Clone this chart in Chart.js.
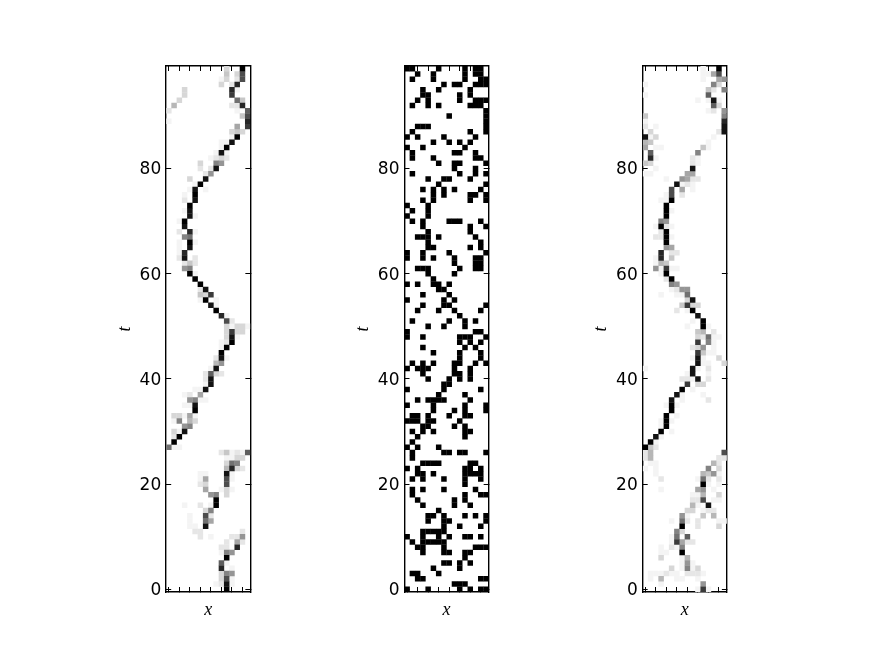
<!DOCTYPE html>
<html><head><meta charset="utf-8">
<script src="https://cdn.jsdelivr.net/npm/chart.js@4"></script>
<style>html,body{margin:0;padding:0;background:#fff;width:871px;height:658px;overflow:hidden}canvas{position:absolute;top:0}</style>
</head><body>
<script>
// Rows run from t=99 (top) to t=0. "b3" means column 0xb has darkness 3/15.
const leftRows = ["b3 ef","b4 d3 eb","a1 b3 d2 eb","a3 c2 dd","33 cd d1","33 cc","23 d9 e4","15 c2 d2 ed","02 d1 fa","e4 fb",
"01 fd","d6 fc","c3 d4 e3","c1 df","a1 b1 ce","a1 bf","91 ae b1","81 92 a3 b2","63 98 a7","62 82 9e",
"72 87","43 7e","51 6f","41 5e 71","31 5f","32 5e","4f","31 4e","4e 51","21 3f",
"3e","22 4d 51","38 49","21 4f 51","21 4e","21 3d","22 3e 52","32 44 52","37 48","4f 51",
"5f","6f","62 7e","64 73 8c","61 7f 91","8e 91","9f","ad b1","bb c2","b3 c1 d3 e3 f1",
"b3 cc d3 e3","b3 ce d1","a1 b2 cf","a1 bf","af","92 ae b1","95 a7","81 9e","72 8a 93 a2","72 8e",
"71 8e","51 61 7e","31 42 66","47 58 61 71","31 41 5e","5f","13 23 31 46 51","11 28 45 53","37 48","13 21 3e",
"12 2f","1f","09 11 21","a2 b4 c1 d2 e1 fa","b1 c1 d3 e3","b3 c9 d8","b5 cd d3 e2","61 71 be c1","61 76 bb c1","62 73 bb",
"76 a1 b3 c1","87 98 b3","9f","31 62 81 9f","73 88","41 7b 82","41 79 86","41 51 7e","52 62 e2","62 81 c2 d2 e7",
"b2 d6 e2","a2 b2 dd","a1 b8 c7","bf","aa b1","ad c1","a3 b8 c7","a3 bb c1","91 a2 be c1","bf"];
// Middle panel is binary: each hex digit is a black column.
const midRows = ["016bde","25bde","15bef","79adef","36c","34ac","24adef","146cde","f","8f",
"f","234f","1cf","027d","58ac","03b","19ad","15de","69af","9d",
"1adf","478c","6f","3579e","57cdf","35cf","04","14","04","1389ae",
"3cf","4c","2346d","4e","45ce","038f","0359de","9de","234ade","49",
"5","02568","67","38","079","378f","269e","a","18bd","47b",
"0de","03abcf","ace","3bd","5ae","ae","1359adf","02349c","39ac","48ac",
"78","07e","6b","24567c","05bf","59bf","1248bc","01245a","349b","135bc",
"2b","1","026","178abf","1","3456cd","02bce","235bcde","137be","b",
"137d","1bef","29b","39c","6","457bdf","478f","7ae","34567","0368bce",
"134567","237def","378bc","b","78ac","5a","126","23ef","9ab","04acef"];
const rightRows = ["b1 ef","b1 c1 d6 eb","b1 e6 f7","01 d8 e3","c4 d2 f8","01 ca","a1 c1 de e1","da e3","c1 d2 f7","04 f8",
"01 fd","02 21 fe","13 e2 fe","0e 11 23 d1","05 14 c1","06 21 31 b4 c1","1a a8","1d 21 92 a1","04 13 92 a1","21 9e",
"01 11 86 96","41 77 86 92 a2","6e 71 82 91","5b 76 91","41 5b 72","31 41 5f","4f","4f 51","4f","38 47",
"21 3f 42 51","32 4f","22 32 4f 51","4f","47 56","3d 52 62","21 3d 54","21 35 44","27 31 4c 51 61","31 4f",
"42 5f","58 67","51 62 77 87","31 61 71 89","83 9e","74 8c 93 a3","62 81 9f","ae","91 bf","81 bf c1",
"a4 b5 d2","a3 b2 c9 d1 e1","ac c8 d1","92 a3 b7 d1","ac b4 c1 d1","91 ae b1 e3","ae b1 c1 f3","01 9e a1 c2","81 9e c1","72 82 91 ae c2",
"8c a3 b3","7f 91","6e 71 b1","5e 71 c2","41 5f 61","5f","4f 61","31 4f 51","31 4f","3f 51",
"2e 31","1f 21","0f 14 22","02 15 fb","02 15 e2 f2","11 21 d5 e2","01 21 c8 e3","21 b5 c4 d7 e1","32 a1 b9 c2 e2","bf c1 e1",
"31 a6 b7 d1","91 a1 b5 e3","92 a2 bb d1 e1","95 a1 ce","83 93 b1 c2 d2","77 81 b4 d5","51 79 82 a2 e1 f1","7f a2 e3","68 73","51 69 8a",
"51 6c 76 82 92","31 52 61 78","31 41 7f","33 71 85","71 87 91","53 71 88 91 a3","11 21 31 42 51 61 82 92 a2 b1","11 35 61 71 a1","31 b7","a1 bc c1"];

const xLabel = "x", yLabel = "t";
const yTickValues = [0,20,40,60,80];
const xTickValues = [0,2,4,6,8,10,12,14];

function sparseCells(rows){
  const out=[];
  rows.forEach((r,k)=>r.split(" ").forEach(p=>out.push({x:parseInt(p[0],16),y:99-k,l:parseInt(p[1],16)})));
  return out.sort((a,b)=>a.l-b.l);
}
function binaryCells(rows){
  const out=[];
  rows.forEach((r,k)=>[...r].forEach(c=>out.push({x:parseInt(c,16),y:99-k,l:15})));
  return out;
}
const shade=l=>{const g=Math.round(255*(1-Math.pow(l/15,1.15)));return `rgb(${g},${g},${g})`;};
const setTicks=vals=>s=>{s.ticks=vals.map(value=>({value}));};

function panel(cells,left){
  const cv=document.createElement("canvas");
  const L=100, W=190, H=658;
  const canvasLeft=Math.floor(left)-L;
  const axisW=left-canvasLeft, areaW=84.16;
  cv.width=W;cv.height=H;cv.style.left=canvasLeft+"px";cv.style.width=W+"px";cv.style.height=H+"px";
  document.body.appendChild(cv);
  const ink="#000";
  const grid={drawOnChartArea:false,tickLength:-5,tickColor:ink,tickWidth:1};
  const border={color:ink,width:1.4};
  new Chart(cv,{
    type:"scatter",
    data:{datasets:[{
      data:cells,
      pointStyle:"rect",
      pointBorderWidth:0,
      backgroundColor:cells.map(c=>shade(c.l)),
      pointBackgroundColor:cells.map(c=>shade(c.l)),
      pointRadius:ctx=>{const s=ctx.chart.scales.y;return (Math.abs(s.getPixelForValue(0)-s.getPixelForValue(1))+0.25)/Math.SQRT2;}
    }]},
    options:{
      responsive:false,animation:false,
      events:[],
      layout:{padding:{left:0,top:66,right:W-axisW-areaW,bottom:0}},
      plugins:{legend:{display:false},tooltip:{enabled:false}},
      scales:{
        x:{type:"linear",position:"bottom",min:-0.5,max:15.5,grid,border,
           afterBuildTicks:setTicks(xTickValues),
           ticks:{display:false},
           title:{display:true,text:xLabel,color:ink,font:{family:"Liberation Serif",style:"italic",size:18},padding:{top:0,bottom:37}},
           afterFit:s=>{s.height=H-592;}},
        x2:{type:"linear",position:"top",min:-0.5,max:15.5,grid,border,
           afterBuildTicks:setTicks(xTickValues),
           ticks:{display:false},
           afterFit:s=>{s.height=0;}},
        y:{type:"linear",position:"left",min:-0.5,max:99.5,grid,border,
           afterBuildTicks:setTicks(yTickValues),
           ticks:{color:ink,padding:10,labelOffset:1.5,font:{family:"DejaVu Sans",size:17}},
           title:{display:true,text:yLabel,color:ink,font:{family:"Liberation Serif",style:"italic",size:18},padding:{top:48,bottom:0}},
           afterFit:s=>{s.width=axisW;}},
        y2:{type:"linear",position:"right",min:-0.5,max:99.5,grid,border,
           afterBuildTicks:setTicks(yTickValues),
           ticks:{display:false},
           afterFit:s=>{s.width=0;}}
      }
    }
  });
}
panel(sparseCells(leftRows),166.2);
panel(binaryCells(midRows),404.5);
panel(sparseCells(rightRows),642.7);
</script>
</body></html>
